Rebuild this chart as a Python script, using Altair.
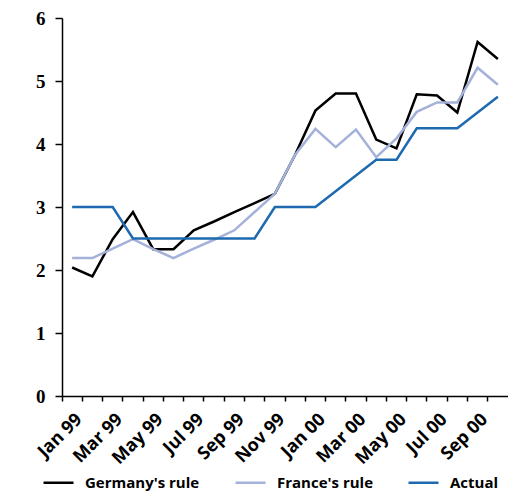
import altair as alt
import pandas as pd

months = ["Jan 99", "Feb 99", "Mar 99", "Apr 99", "May 99", "Jun 99", "Jul 99", "Aug 99",
          "Sep 99", "Oct 99", "Nov 99", "Dec 99", "Jan 00", "Feb 00", "Mar 00", "Apr 00",
          "May 00", "Jun 00", "Jul 00", "Aug 00", "Sep 00", "Oct 00"]
germany = [2.04, 1.90, 2.49, 2.92, 2.33, 2.33, 2.63, 2.77, 2.92, 3.06, 3.21, 3.83,
           4.53, 4.80, 4.80, 4.07, 3.93, 4.79, 4.77, 4.50, 5.62, 5.35]
france = [2.19, 2.19, 2.34, 2.49, 2.33, 2.19, 2.34, 2.48, 2.63, 2.92, 3.21, 3.83,
          4.24, 3.95, 4.23, 3.79, 4.09, 4.51, 4.66, 4.66, 5.21, 4.94]
actual = [3.0, 3.0, 3.0, 2.5, 2.5, 2.5, 2.5, 2.5, 2.5, 2.5, 3.0, 3.0,
          3.0, 3.25, 3.5, 3.75, 3.75, 4.25, 4.25, 4.25, 4.5, 4.75]
series_names = ["Germany's rule", "France's rule", "Actual"]
series_colors = ["#000000", "#a4b1d9", "#1e6ab0"]

rows = []
for name, vals in zip(series_names, [germany, france, actual]):
    for m, v in zip(months, vals):
        rows.append({"month": m, "value": v, "series": name})
df = pd.DataFrame(rows)

label_expr = ("indexof(['Jan','Mar','May','Jul','Sep','Nov'], slice(datum.value, 0, 3)) >= 0"
              " ? datum.value : ''")

chart = alt.Chart(df).mark_line(strokeWidth=2.5).encode(
    x=alt.X("month:N", sort=months, title=None,
            scale=alt.Scale(type="band", paddingInner=0, paddingOuter=0),
            axis=alt.Axis(orient="bottom", labelAngle=-45, labelExpr=label_expr,
                          bandPosition=0, labelOffset=1,
                          labelFont="Open Sans", labelFontWeight="bold", labelFontSize=18,
                          labelColor="#000000", domainColor="#000000", domainWidth=1.5,
                          tickColor="#000000", tickWidth=1.5, tickSize=5, labelPadding=9,
                          grid=False, labelOverlap=False)),
    y=alt.Y("value:Q", title=None,
            scale=alt.Scale(domain=[0, 6], nice=False),
            axis=alt.Axis(values=[0, 1, 2, 3, 4, 5, 6], grid=False,
                          labelFont="Liberation Serif", labelFontWeight="bold", labelFontSize=19,
                          labelColor="#000000", domainColor="#000000", domainWidth=1.5,
                          tickColor="#000000", tickWidth=1.5, tickSize=7, labelPadding=10)),
    color=alt.Color("series:N", title=None,
                    scale=alt.Scale(domain=series_names, range=series_colors),
                    legend=alt.Legend(orient="none", direction="horizontal", legendX=-20, legendY=448,
                                      symbolType="stroke", symbolSize=900, symbolStrokeWidth=2.5,
                                      labelFont="Open Sans", labelFontWeight="bold", labelFontSize=15,
                                      labelColor="#000000", columnPadding=30, labelOffset=10,
                                      padding=0)),
).properties(
    width=446, height=378,
    autosize=alt.AutoSizeParams(type="none"),
    padding={"left": 54, "top": 10, "right": 0, "bottom": 95},
).configure_view(stroke=None)

chart.save("out.html", embed_options={"renderer": "svg", "actions": False})
